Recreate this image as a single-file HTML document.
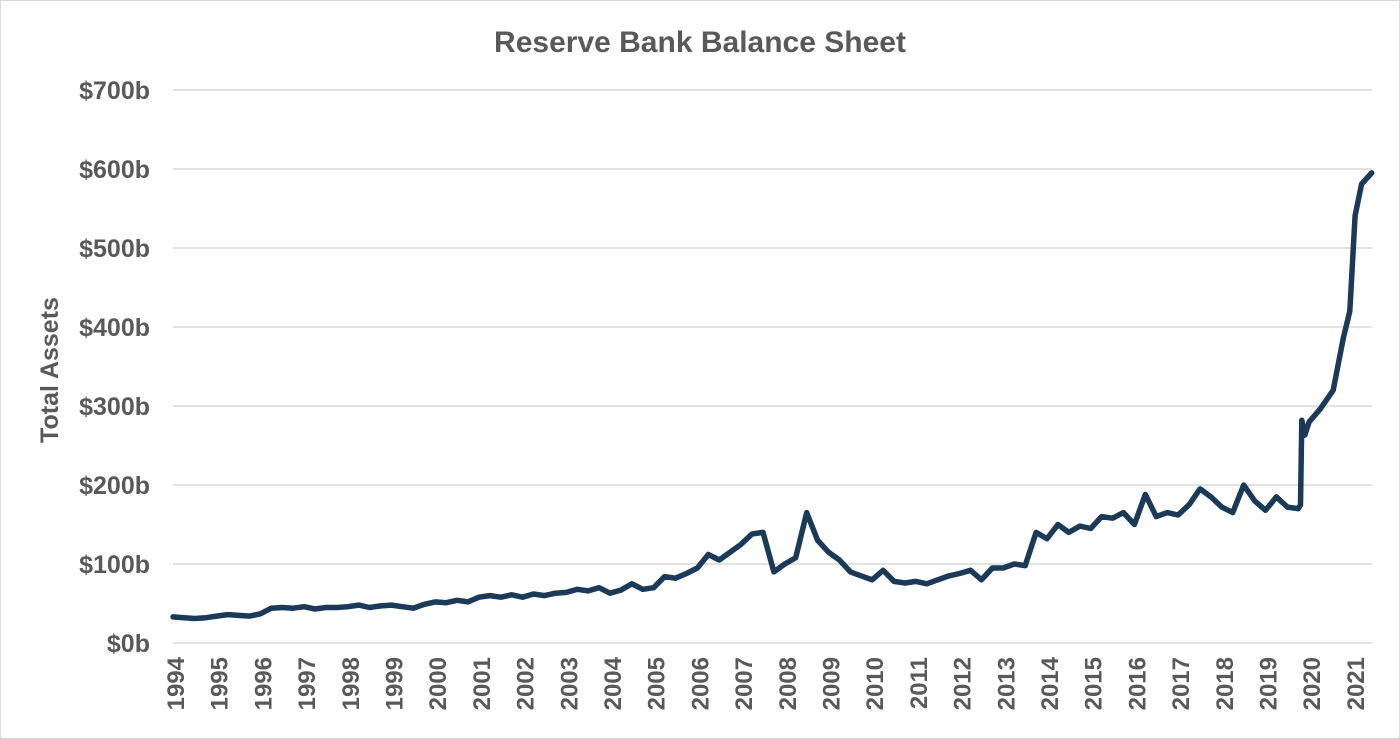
<!DOCTYPE html>
<html><head><meta charset="utf-8"><style>
body{margin:0;background:#fff}
svg{display:block;font-family:"Liberation Sans",sans-serif}
</style></head><body>
<svg id="chart" width="1400" height="739" xmlns="http://www.w3.org/2000/svg">
<rect x="0.5" y="0.5" width="1399" height="738" fill="#fff" stroke="#d9d9d9"/>
<text x="700" y="52" text-anchor="middle" font-size="30" font-weight="bold" fill="#595959">Reserve Bank Balance Sheet</text>
<text transform="translate(58,370) rotate(-90)" text-anchor="middle" font-size="25" font-weight="bold" fill="#595959">Total Assets</text>
<g id="grid"></g><g id="yt"></g><g id="xt"></g><g id="ln"></g>
</svg>
<script>
const yTicks=[0,100,200,300,400,500,600,700];
const yearLabels=[1994,1995,1996,1997,1998,1999,2000,2001,2002,2003,2004,2005,2006,2007,2008,2009,2010,2011,2012,2013,2014,2015,2016,2017,2018,2019,2020,2021];
const dates=[];
for(let y=1994;y<2019.9;y+=0.25)dates.push(+y.toFixed(2));
const values=[33,32,31,32, 34,36,35,34, 37,44,45,44, 46,43,45,45, 46,48,45,47, 48,46,44,49, 52,51,54,52, 58,60,58,61, 58,62,60,63, 64,68,66,70, 63,67,75,68, 70,84,82,88, 95,112,105,115, 125,138,140,90, 100,108,165,130, 115,105,90,85, 80,92,78,76, 78,75,80,85, 88,92,80,95, 95,100,98,140, 132,150,140,148, 145,160,158,165, 150,188,160,165, 162,175,195,185, 172,165,200,180, 168,185,172,170];
const lateDates=[2019.8,2019.83,2019.9,2020.0,2020.25,2020.55,2020.78,2020.93,2021.05,2021.2,2021.43];
const lateValues=[175,282,263,280,296,320,386,420,541,581,595];
const NS='http://www.w3.org/2000/svg';
const X0=173,PX=43.7,Y0=643,PY=0.79;
const xs=d=>X0+(d-1994)*PX, ys=v=>Y0-v*PY;
function mk(t,a,p){const e=document.createElementNS(NS,t);for(const k in a)e.setAttribute(k,a[k]);p.appendChild(e);return e;}
const g=document.getElementById('grid'),yt=document.getElementById('yt'),xt=document.getElementById('xt'),ln=document.getElementById('ln');
yTicks.forEach(v=>{
 const l=mk('line',{x1:173,x2:1372,y1:ys(v),y2:ys(v),stroke:'#d9d9d9','stroke-width':1.5},g);
 
 
 const t=mk('text',{x:150,y:ys(v)+9,'text-anchor':'end','font-size':25,'font-weight':'bold',fill:'#595959'},yt);
 t.textContent='$'+v+'b';
 
 
});
yearLabels.forEach(y=>{
 const x=xs(y)+2;
 const t=mk('text',{transform:`translate(${x+9},657) rotate(-90)`,'text-anchor':'end','font-size':24,'font-weight':'bold',fill:'#595959'},xt);
 t.textContent=y;
 
 
});
const allD=dates.concat(lateDates),allV=values.concat(lateValues);
const pts=allD.map((d,i)=>xs(d).toFixed(1)+','+ys(allV[i]).toFixed(1)).join(' ');
const p=mk('polyline',{points:pts,fill:'none',stroke:'#1b3a57','stroke-width':5.5,'stroke-linejoin':'round','stroke-linecap':'round'},ln);


</script>
</body></html>
